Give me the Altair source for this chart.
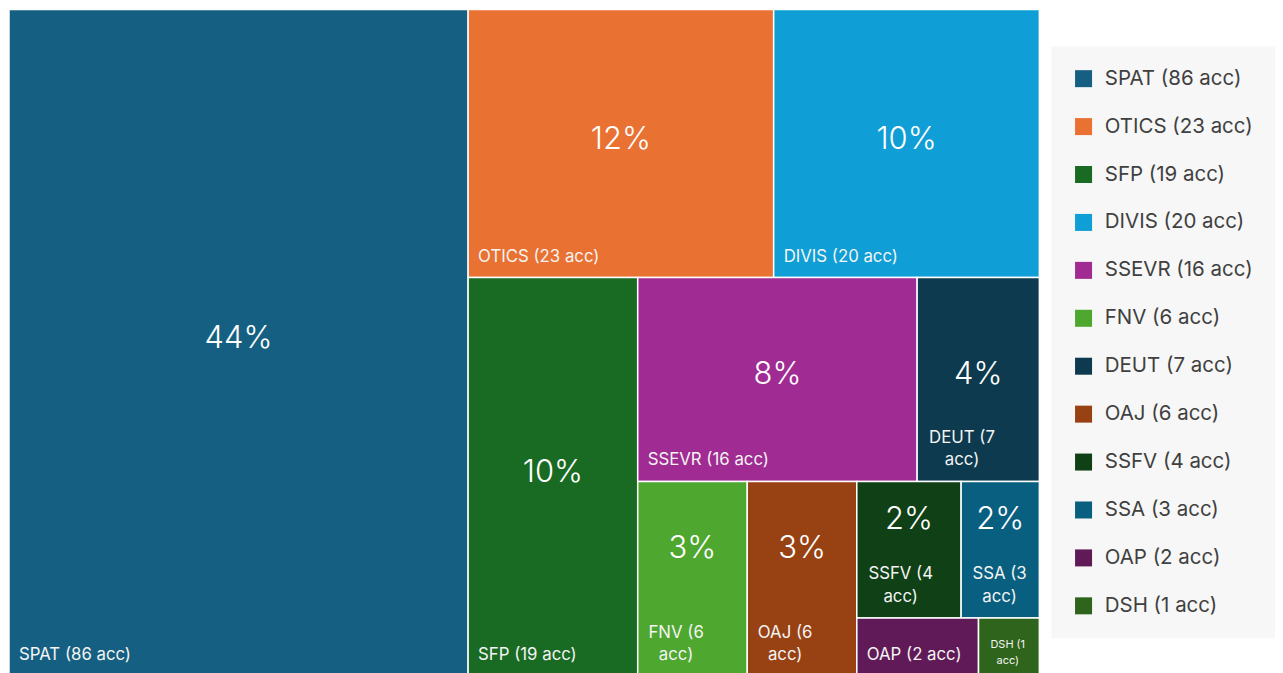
import altair as alt
import pandas as pd

# ---- data -------------------------------------------------------------
names = ["SPAT", "OTICS", "SFP", "DIVIS", "SSEVR", "FNV", "DEUT", "OAJ", "SSFV", "SSA", "OAP", "DSH"]
accounts = [86, 23, 19, 20, 16, 6, 7, 6, 4, 3, 2, 1]
percents = [44, 12, 10, 10, 8, 3, 4, 3, 2, 2, 1, 1]
colors = ["#156082", "#E97132", "#196B24", "#0F9ED5", "#A02B93", "#4EA72E",
          "#0D3A4E", "#984214", "#0F4016", "#095F80", "#601A58", "#2F641C"]

# slicing structure of the treemap (h = side by side, v = stacked)
tree = ("h", ["SPAT",
              ("v", [("h", ["OTICS", "DIVIS"]),
                     ("h", ["SFP",
                            ("v", [("h", ["SSEVR", "DEUT"]),
                                   ("h", ["FNV", "OAJ",
                                          ("v", [("h", ["SSFV", "SSA"]),
                                                 ("h", ["OAP", "DSH"])])])])])])])

W, H = 1032, 668
val = dict(zip(names, accounts))


def weight(node):
    if isinstance(node, str):
        return val[node]
    return sum(weight(c) for c in node[1])


rects = {}


def layout(node, x0, y0, x1, y1):
    if isinstance(node, str):
        rects[node] = (x0, y0, x1, y1)
        return
    d, children = node
    tot = sum(weight(c) for c in children)
    if d == "h":
        pos = x0
        for c in children:
            w = (x1 - x0) * weight(c) / tot
            layout(c, pos, y0, pos + w, y1)
            pos += w
    else:
        pos = y0
        for c in children:
            h = (y1 - y0) * weight(c) / tot
            layout(c, x0, pos, x1, pos + h)
            pos += h


layout(tree, 0, 0, W, H)

CW = {"A": 667, "B": 667, "C": 722, "D": 722, "E": 667, "F": 611, "G": 778, "H": 722,
      "I": 278, "J": 500, "K": 667, "L": 556, "M": 833, "N": 722, "O": 778, "P": 667,
      "R": 722, "S": 667, "T": 611, "U": 722, "V": 667, " ": 278, "(": 333, ")": 333,
      "a": 556, "c": 500}


def text_w(s, fs):
    return sum(CW.get(ch, 556) for ch in s) * fs / 1000.0


LH_BIG, LH_SMALL = 23, 17
LABEL_FS = 16.8
rows = []
for n, a, p in zip(names, accounts, percents):
    x0, y0, x1, y1 = rects[n]
    w, h = x1 - x0, y1 - y0
    lab = f"{n} ({a} acc)"
    wrapped = text_w(lab, 16) > w - 30
    fs = LABEL_FS
    if wrapped:
        first, second = lab.rsplit(" ", 1)
        text = first + "\n" + second
        if h < 70:
            fs = 11
        lx = x0 + 10 + 1.07 * text_w(first, fs) / 2
        if fs == LABEL_FS:
            ly = y1 - 12 - LH_BIG
        else:
            ly = y1 - 10 - LH_SMALL
    else:
        text = lab
        lx = x0 + 10
        ly = y1 - 12
    rows.append(dict(
        name=n, legend=lab, x0=x0, x1=x1, y0=y0, y1=y1,
        cx=(x0 + x1) / 2,
        py=y0 + h / 2 - (4 if h >= 200 else 30),
        pct=f"{p}%" if h >= 100 else "",
        label=text, lx=lx, ly=ly,
        kind=("single" if not wrapped else ("multi" if fs == LABEL_FS else "small")),
    ))

df = pd.DataFrame(rows)

FONT = "Inter"
xs = alt.Scale(domain=[0, W], nice=False, zero=False)
ys = alt.Scale(domain=[0, H], nice=False, zero=False, reverse=True)
legend_labels = [f"{n} ({a} acc)" for n, a in zip(names, accounts)]

base = alt.Chart(df)

cells = base.mark_rect(stroke="white", strokeWidth=1.5).encode(
    x=alt.X("x0:Q", scale=xs, axis=None),
    x2="x1:Q",
    y=alt.Y("y0:Q", scale=ys, axis=None),
    y2="y1:Q",
    color=alt.Color("legend:N",
                    scale=alt.Scale(domain=legend_labels, range=colors),
                    sort=legend_labels,
                    legend=alt.Legend(title=None, orient="none", legendX=1044, legendY=37,
                                      fillColor="#f7f7f7", padding=22,
                                      symbolType="square", symbolSize=290,
                                      symbolStrokeWidth=0, symbolOpacity=1,
                                      labelFontSize=20.5, labelFont=FONT,
                                      labelColor="#404040", labelOffset=11,
                                      rowPadding=27, labelLimit=300)),
)

pct = base.mark_text(font=FONT, fontSize=31, fontWeight=300, color="white",
                     baseline="middle", align="center").encode(
    x=alt.X("cx:Q", scale=xs, axis=None),
    y=alt.Y("py:Q", scale=ys, axis=None),
    text="pct:N",
)

single = base.transform_filter(alt.datum.kind == "single").mark_text(
    font=FONT, fontSize=LABEL_FS, color="#f4f4f4", align="left", baseline="bottom").encode(
    x=alt.X("lx:Q", scale=xs, axis=None),
    y=alt.Y("ly:Q", scale=ys, axis=None),
    text="label:N",
)

multi = base.transform_filter(alt.datum.kind == "multi").mark_text(
    font=FONT, fontSize=LABEL_FS, color="#f4f4f4", align="center", baseline="bottom",
    lineBreak="\n", lineHeight=LH_BIG).encode(
    x=alt.X("lx:Q", scale=xs, axis=None),
    y=alt.Y("ly:Q", scale=ys, axis=None),
    text="label:N",
)

small = base.transform_filter(alt.datum.kind == "small").mark_text(
    font=FONT, fontSize=11, color="#f4f4f4", align="center", baseline="bottom",
    lineBreak="\n", lineHeight=LH_SMALL).encode(
    x=alt.X("lx:Q", scale=xs, axis=None),
    y=alt.Y("ly:Q", scale=ys, axis=None),
    text="label:N",
)

chart = alt.layer(cells, pct, single, multi, small).properties(
    width=W, height=H, padding=0
).configure_view(stroke=None)

chart.save("out.html", embed_options={"renderer": "svg", "actions": False})
